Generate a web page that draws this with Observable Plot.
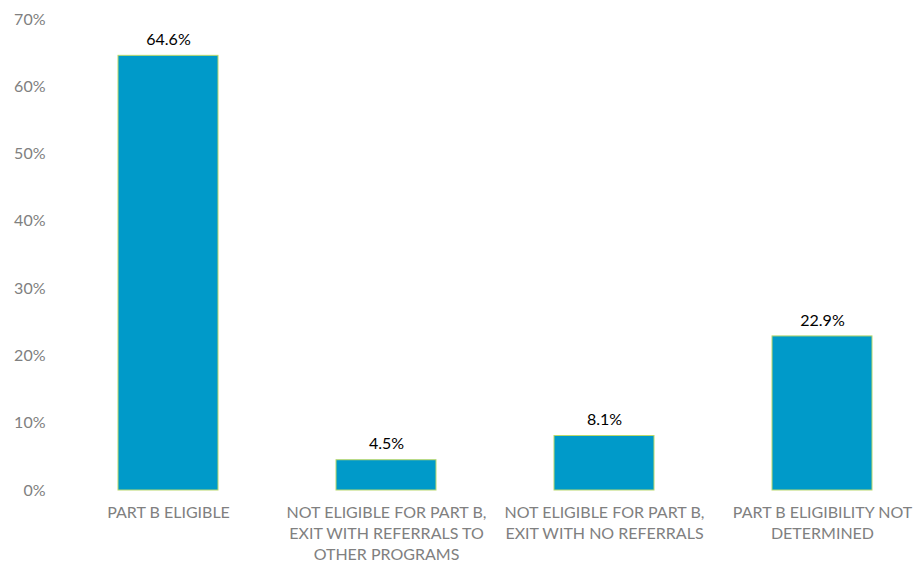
<!DOCTYPE html>
<html>
<head>
<meta charset="utf-8">
<script src="https://cdn.jsdelivr.net/npm/d3@7"></script>
<script src="https://cdn.jsdelivr.net/npm/@observablehq/plot@0.6"></script>
<style>
  html, body { margin: 0; padding: 0; background: #fff; overflow: hidden; }
  #chart svg { display: block; overflow: hidden; }
</style>
</head>
<body>
<div id="chart"></div>
<script>
const categories = [
  "PART B ELIGIBLE",
  "NOT ELIGIBLE FOR PART B,\nEXIT WITH REFERRALS TO\nOTHER PROGRAMS",
  "NOT ELIGIBLE FOR PART B,\nEXIT WITH NO REFERRALS",
  "PART B ELIGIBILITY NOT\nDETERMINED"
];
const values = [64.6, 4.5, 8.1, 22.9];
const yTicks = [0, 10, 20, 30, 40, 50, 60, 70];

const data = categories.map((c, i) => ({category: c, value: values[i]}));

const chart = Plot.plot({
  width: 920,
  height: 565,
  marginLeft: 59,
  marginRight: 0,
  marginTop: 19,
  marginBottom: 75,
  style: {fontFamily: "Lato, sans-serif", fontSize: "15px", background: "#fff"},
  x: {domain: categories, range: [59, 931], paddingInner: 0.54, paddingOuter: 0.27, label: null},
  y: {domain: [0, 70], label: null},
  marks: [
    Plot.gridY(yTicks, {stroke: "#d9d9d9", strokeOpacity: 1, x1: 58, x2: 920}),
    Plot.axisY(yTicks, {tickSize: 0, tickPadding: 14, tickFormat: d => d + "%", fill: "#808080", fontSize: 16}),
    Plot.barY(data, {x: "category", y: "value", fill: "#009ac9", stroke: "#b9d86c", strokeWidth: 1}),
    Plot.ruleY([0], {stroke: "#d9d9d9", x1: 58, x2: 920}),
    Plot.text(data, {x: "category", y: "value", text: d => d.value.toFixed(1) + "%", dy: -16, fill: "#000", fontSize: 16}),
    Plot.axisX({tickSize: 0, tickPadding: 12, fill: "#808080", fontSize: 16, lineHeight: 1.32, lineAnchor: "top"})
  ]
});
document.getElementById("chart").append(chart);
</script>
</body>
</html>
